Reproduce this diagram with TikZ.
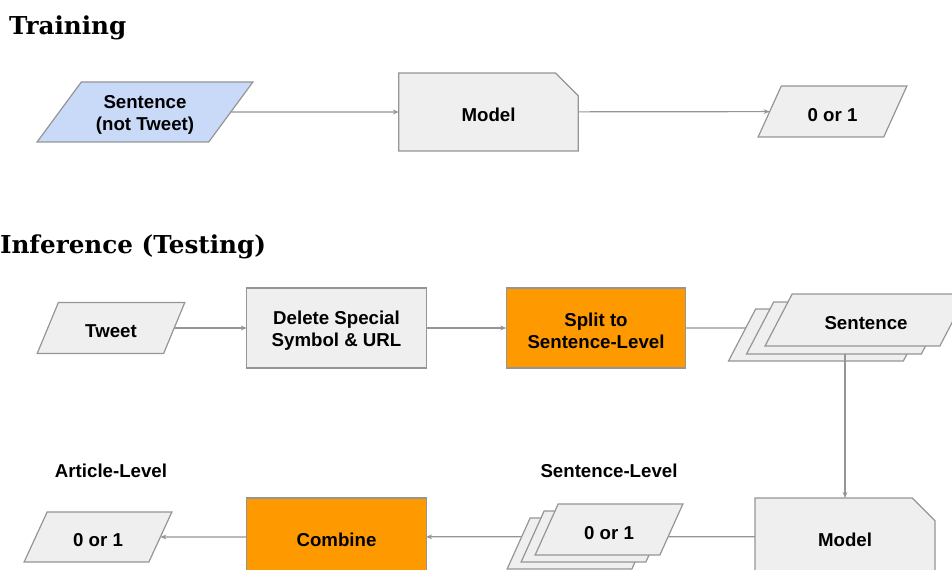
\documentclass[tikz,border=0pt]{standalone}
\usepackage{fontspec}
\setmainfont{Liberation Sans}
\newfontfamily\headfont{DejaVu Serif}
\usetikzlibrary{shapes.geometric,shapes.misc,arrows.meta,backgrounds}
\definecolor{boxgray}{HTML}{EFEFEF}
\definecolor{edgegray}{HTML}{959595}
\definecolor{skyblue}{HTML}{C9DAF8}
\definecolor{amber}{HTML}{FF9900}
\newcommand\tallstrut{\rule{0pt}{14.5pt}}

\begin{document}
\begin{tikzpicture}[x=0.75pt,y=-0.75pt,>={Stealth[length=4.5pt,width=3.6pt]},
  every node/.style={font=\bfseries\fontsize{14}{16.5}\selectfont,align=center,inner sep=0pt,outer sep=0pt,
    execute at begin node={\tallstrut}},
  box/.style={rectangle,draw=edgegray,line width=0.9pt,fill=boxgray,minimum width=134.5pt,minimum height=58.5pt},
  model/.style={box,chamfered rectangle,chamfered rectangle corners=north east,
    chamfered rectangle xsep=9.75pt,chamfered rectangle ysep=9.75pt},
  data/.style={trapezium,trapezium left angle=#1,trapezium right angle={180-#1},trapezium stretches=true,
    draw=edgegray,line width=0.9pt,fill=boxgray,minimum width=111pt,minimum height=38.25pt},
  heading/.style={anchor=base west,font=\headfont\bfseries\fontsize{18.5}{22}\selectfont},
  conn/.style={draw=edgegray,line width=0.9pt}]
\useasboundingbox (0,0) rectangle (952,570);
\clip (0,0) rectangle (952,570);

% training
\node[heading] (train) at (9,35) {Training};
\node[data=53,fill=skyblue,minimum width=162pt,minimum height=45pt] (sent) at (145,112) {\tallstrut Sentence\\(not Tweet)};
\node[model] (mdl) at (488.5,112) {Model};
\node[data=60,minimum width=111.75pt] (bit) at (832.5,111.5) {0 or 1};
\draw[conn,->] (sent) -- (mdl);
\draw[conn,->] (mdl) -- (bit);

% inference
\node[heading] (infer) at (0,253) {Inference (Testing)};
\node[data=62] (tweet) at (111,328) {Tweet};
\node[box,minimum height=60pt] (del) at (336.5,328) {\tallstrut Delete Special\\Symbol \& URL};
\node[box,fill=amber,minimum height=60pt] (split) at (596,328) {\tallstrut Split to\\Sentence-Level};
\node[data=52,minimum width=152.25pt,minimum height=39pt] (sentC) at (829.5,335) {\phantom{Sentence}};
\node[data=52,minimum width=152.25pt,minimum height=39pt] (sentB) at (847.5,328) {\phantom{Sentence}};
\node[data=52,minimum width=152.25pt,minimum height=39pt] (sentA) at (866,320) {Sentence};
\node[model,minimum width=135pt] (mdl2) at (845,537) {Model};
\node (senlbl) at (609,468) {Sentence-Level};
\node[data=60] (bitC) at (581,543.5) {\phantom{0 or 1}};
\node[data=60] (bitB) at (595,536.5) {\phantom{0 or 1}};
\node[data=60] (bitA) at (609,529.5) {0 or 1};
\node[box,fill=amber] (comb) at (336.5,537) {Combine};
\node (artlbl) at (111,467.5) {Article-Level};
\node[data=60,minimum height=37.5pt] (art) at (98,537) {0 or 1};

\draw[conn,->] (tweet) -- (del);
\draw[conn,->] (del) -- (split);
\draw[conn,->] (sentB.south -| mdl2.north) -- (mdl2.north);
\draw[conn,->] (comb) -- (art);
\begin{scope}[on background layer]
\draw[conn] (split) -- (sentB);
\draw[conn] (mdl2) -- (bitB);
\draw[conn,->] (bitB) -- (comb);
\end{scope}
\end{tikzpicture}
\end{document}
